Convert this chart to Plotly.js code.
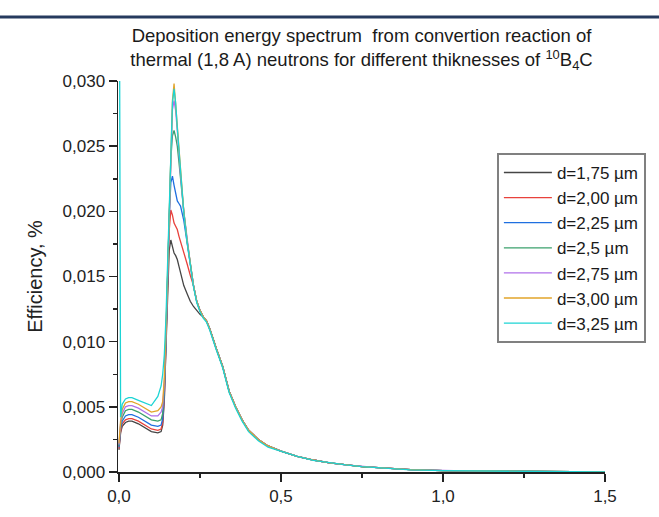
<!DOCTYPE html>
<html>
<head>
<meta charset="utf-8">
<script src="https://cdn.plot.ly/plotly-3.0.1.min.js"></script>
<style>
html,body{margin:0;padding:0;background:#fff;}
#chart{width:659px;height:517px;}
</style>
</head>
<body>
<div id="chart"></div>
<script>
// Energy (x) grid shared by all series
const energy = [0, 0.005, 0.01, 0.02, 0.03, 0.04, 0.06, 0.08, 0.10, 0.12, 0.13, 0.135, 0.14, 0.145, 0.15, 0.155, 0.16, 0.165, 0.17, 0.175, 0.18, 0.185, 0.19, 0.20, 0.21, 0.22, 0.23, 0.24, 0.25, 0.26, 0.27, 0.28, 0.29, 0.30, 0.32, 0.34, 0.36, 0.38, 0.40, 0.43, 0.46, 0.50, 0.55, 0.60, 0.65, 0.70, 0.75, 0.80, 0.90, 1.00, 1.10, 1.20, 1.30, 1.40, 1.50];

const d175 = [0.0017, 0.0030, 0.0035, 0.0038, 0.0039, 0.0039, 0.0037, 0.0034, 0.0031, 0.0030, 0.0031, 0.0036, 0.0055, 0.0095, 0.0140, 0.0170, 0.0178, 0.0173, 0.0168, 0.0166, 0.0163, 0.0158, 0.0153, 0.0143, 0.0137, 0.0131, 0.0127, 0.0124, 0.0121, 0.0119, 0.0116, 0.0110, 0.0102, 0.0095, 0.0081, 0.0062, 0.0050, 0.0040, 0.0032, 0.0025, 0.0020, 0.0016, 0.0012, 0.00092, 0.0007, 0.00055, 0.00042, 0.00033, 0.00018, 0.0001, 0.00007, 0.00005, 0.00003, 0.00002, 0.00001];
const d200 = [0.0018, 0.0031, 0.0037, 0.0040, 0.0041, 0.0041, 0.0039, 0.0036, 0.0033, 0.0032, 0.0033, 0.0038, 0.0057, 0.0097, 0.0145, 0.0185, 0.0201, 0.0197, 0.0191, 0.0189, 0.0186, 0.0181, 0.0177, 0.0168, 0.0160, 0.0151, 0.0143, 0.0131, 0.0124, 0.0119, 0.0116, 0.0110, 0.0102, 0.0095, 0.0081, 0.0062, 0.0050, 0.0040, 0.0032, 0.0025, 0.0020, 0.0016, 0.0012, 0.00092, 0.0007, 0.00055, 0.00042, 0.00033, 0.00018, 0.0001, 0.00007, 0.00005, 0.00003, 0.00002, 0.00001];
const d225 = [0.0019, 0.0033, 0.0039, 0.0043, 0.0044, 0.0044, 0.0042, 0.0039, 0.0036, 0.0035, 0.0036, 0.0041, 0.0060, 0.0100, 0.0148, 0.0195, 0.0222, 0.0227, 0.0220, 0.0213, 0.0208, 0.0206, 0.0204, 0.0193, 0.0177, 0.0160, 0.0143, 0.0131, 0.0124, 0.0119, 0.0116, 0.0110, 0.0102, 0.0095, 0.0081, 0.0062, 0.0050, 0.0040, 0.0032, 0.0025, 0.0020, 0.0016, 0.0012, 0.00092, 0.0007, 0.00055, 0.00042, 0.00033, 0.00018, 0.0001, 0.00007, 0.00005, 0.00003, 0.00002, 0.00001];
const d250 = [0.0020, 0.0035, 0.0042, 0.0047, 0.0048, 0.0048, 0.0046, 0.0043, 0.0040, 0.0039, 0.0040, 0.0045, 0.0064, 0.0103, 0.0150, 0.0197, 0.0240, 0.0258, 0.0262, 0.0257, 0.0250, 0.0238, 0.0224, 0.0200, 0.0178, 0.0160, 0.0143, 0.0131, 0.0124, 0.0119, 0.0116, 0.0110, 0.0102, 0.0095, 0.0081, 0.0062, 0.0050, 0.0040, 0.0032, 0.0025, 0.0020, 0.0016, 0.0012, 0.00092, 0.0007, 0.00055, 0.00042, 0.00033, 0.00018, 0.0001, 0.00007, 0.00005, 0.00003, 0.00002, 0.00001];
const d275 = [0.0021, 0.0037, 0.0045, 0.0050, 0.0051, 0.0051, 0.0049, 0.0046, 0.0043, 0.0043, 0.0046, 0.0050, 0.0068, 0.0106, 0.0152, 0.0200, 0.0245, 0.0278, 0.0285, 0.0277, 0.0262, 0.0244, 0.0228, 0.0200, 0.0178, 0.0160, 0.0143, 0.0131, 0.0124, 0.0119, 0.0116, 0.0110, 0.0102, 0.0095, 0.0081, 0.0062, 0.0050, 0.0040, 0.0032, 0.0025, 0.0020, 0.0016, 0.0012, 0.00092, 0.0007, 0.00055, 0.00042, 0.00033, 0.00018, 0.0001, 0.00007, 0.00005, 0.00003, 0.00002, 0.00001];
const d300 = [0.0022, 0.0039, 0.0048, 0.0053, 0.0054, 0.0054, 0.0052, 0.0049, 0.0046, 0.0047, 0.0050, 0.0054, 0.0072, 0.0108, 0.0154, 0.0202, 0.0248, 0.0285, 0.0298, 0.0282, 0.0263, 0.0245, 0.0228, 0.0200, 0.0178, 0.0160, 0.0143, 0.0131, 0.0124, 0.0119, 0.0116, 0.0110, 0.0102, 0.0095, 0.0081, 0.0062, 0.0050, 0.0040, 0.0032, 0.0025, 0.0020, 0.0016, 0.0012, 0.00092, 0.0007, 0.00055, 0.00042, 0.00033, 0.00018, 0.0001, 0.00007, 0.00005, 0.00003, 0.00002, 0.00001];
const d325 = [0.0500, 0.0042, 0.0052, 0.0056, 0.0057, 0.0057, 0.0055, 0.0053, 0.0051, 0.0058, 0.0066, 0.0075, 0.0090, 0.0118, 0.0160, 0.0206, 0.0250, 0.0283, 0.0294, 0.0283, 0.0264, 0.0246, 0.0228, 0.0199, 0.0177, 0.0159, 0.0142, 0.0130, 0.0123, 0.0118, 0.0115, 0.0109, 0.0101, 0.0094, 0.0080, 0.0061, 0.0049, 0.0039, 0.0031, 0.0024, 0.0019, 0.0016, 0.0012, 0.00090, 0.0007, 0.00054, 0.00041, 0.00032, 0.00017, 0.0001, 0.00007, 0.00005, 0.00003, 0.00002, 0.00001];

const seriesNames = ['d=1,75 µm', 'd=2,00 µm', 'd=2,25 µm', 'd=2,5 µm', 'd=2,75 µm', 'd=3,00 µm', 'd=3,25 µm'];
const seriesValues = [d175, d200, d225, d250, d275, d300, d325];
const seriesColors = ['#454545', '#e8423c', '#1f6fe0', '#3ba16c', '#b070ea', '#e2a42a', '#1cd4d4'];

const xTickVals = [0, 0.5, 1.0, 1.5];
const yTickVals = [0, 0.005, 0.010, 0.015, 0.020, 0.025, 0.030];

const traces = seriesNames.map((name, i) => ({
  x: energy,
  y: seriesValues[i],
  name: name,
  type: 'scatter',
  mode: 'lines',
  line: {color: seriesColors[i], width: 1.3}
}));

const fontFam = 'Liberation Sans, Arial, sans-serif';

const layout = {
  width: 659,
  height: 517,
  margin: {l: 118, r: 54, t: 81, b: 45},
  paper_bgcolor: '#ffffff',
  plot_bgcolor: '#ffffff',
  separators: ',.',
  font: {family: fontFam, color: '#222222'},
  title: {
    text: 'Deposition energy spectrum  from convertion reaction of<br>thermal (1,8 A) neutrons for different thiknesses of <sup>10</sup>B<sub>4</sub>C',
    font: {family: fontFam, size: 18.5, color: '#1a1a1a'},
    x: 0.5, xref: 'paper', xanchor: 'center',
    y: 0.918, yref: 'container', yanchor: 'top'
  },
  xaxis: {
    range: [-0.003, 1.5],
    tickvals: xTickVals,
    tickformat: '.1f',
    ticks: 'outside', ticklen: 8, tickwidth: 1.5, tickcolor: '#222',
    showline: true, linecolor: '#222', linewidth: 1.5,
    showgrid: false, zeroline: false,
    tickfont: {family: fontFam, size: 17, color: '#222'},
    minor: {ticks: 'outside', ticklen: 4, tickwidth: 1.5, tickcolor: '#222', dtick: 0.25, tick0: 0, showgrid: false}
  },
  yaxis: {
    range: [0, 0.030],
    tickvals: yTickVals,
    tickformat: '.3f',
    ticks: 'outside', ticklen: 8, tickwidth: 1.5, tickcolor: '#222',
    showline: true, linecolor: '#222', linewidth: 1.5,
    showgrid: false, zeroline: false,
    tickfont: {family: fontFam, size: 17, color: '#222'},
    minor: {ticks: 'outside', ticklen: 4, tickwidth: 1.5, tickcolor: '#222', dtick: 0.0025, tick0: 0, showgrid: false},
    title: {text: 'Efficiency, %', font: {family: fontFam, size: 20, color: '#222'}, standoff: 14}
  },
  legend: {
    x: 0.778, y: 0.816, xanchor: 'left', yanchor: 'top',
    bgcolor: '#ffffff', bordercolor: '#808080', borderwidth: 2,
    font: {family: fontFam, size: 17, color: '#1a1a1a'},
    itemwidth: 48,
    tracegroupgap: 0
  },
  showlegend: true,
  shapes: [{
    type: 'line', xref: 'paper', yref: 'paper',
    x0: -118/487, x1: (659-118)/487,
    y0: (472-17)/391, y1: (472-17)/391,
    line: {color: '#263a5e', width: 3}
  }]
};

Plotly.newPlot('chart', traces, layout, {displayModeBar: false, staticPlot: true});
</script>
</body>
</html>
